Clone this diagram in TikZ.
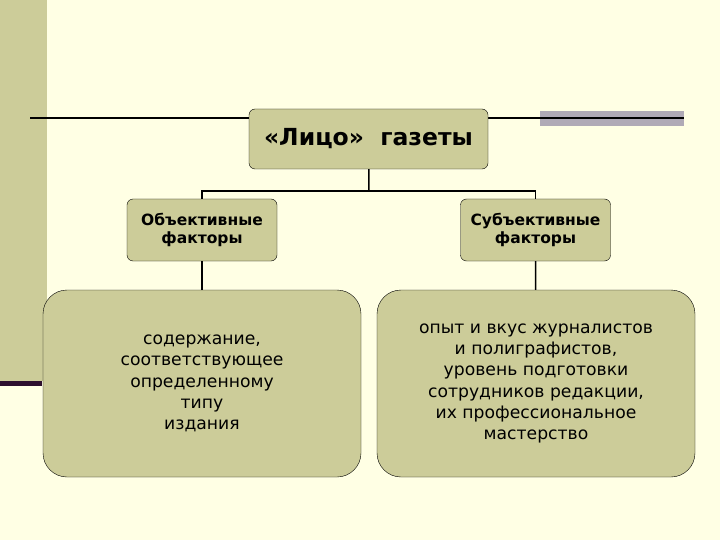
\documentclass[tikz,border=0pt]{standalone}
\usepackage{fontspec}
\setmainfont{DejaVu Sans}
\definecolor{cream}{RGB}{255,255,228}
\definecolor{olive}{RGB}{204,204,153}
\definecolor{barlila}{RGB}{176,170,182}
\definecolor{darkplum}{RGB}{45,15,45}
\tikzset{
  box/.style={draw=black, fill=olive, rounded corners=6pt, align=center, inner sep=0pt},
  bigbox/.style={box, rounded corners=24pt, minimum width=318pt, minimum height=187pt, font=\fontsize{17.2}{21.2}\selectfont},
  factor/.style={box, minimum width=150pt, minimum height=62pt, font=\fontsize{15.5}{17.5}\selectfont\bfseries},
  link/.style={line width=1.5pt}
}
\begin{document}
\begin{tikzpicture}[x=1pt, y=-1pt]
\useasboundingbox (0,0) rectangle (720,540);
\fill[cream] (0,0) rectangle (720,540);
%slide decoration
\fill[olive] (0,0) rectangle (47,381);
\fill[darkplum] (0,381) rectangle (42,386);
\fill[barlila] (540,111) rectangle (684,126);
\draw[line width=1.5pt] (30,118) -- (684,118);
\path
(368.5,139) node[box, minimum width=239pt, minimum height=60pt, font=\fontsize{23.5}{26}\selectfont\bfseries] (face) {«Лицо»~~газеты}
(369,191) coordinate (split)
(202,230) node[factor] (obj) {Объективные\\факторы}
(535.5,230) node[factor] (subj) {Субъективные\\факторы}
(202,383.5) node[bigbox] (objtext) {содержание,\\соответствующее\\определенному\\типу\\издания}
(536,383.5) node[bigbox] (subjtext) {опыт и вкус журналистов\\и полиграфистов,\\уровень подготовки\\сотрудников редакции,\\их профессиональное\\мастерство};
\draw[link] (face)--(split);
\draw[link] (split)-|(obj);
\draw[link] (split)-|(subj);
\draw[link] (obj)--(objtext);
\draw[link] (subj)--(subjtext);
\end{tikzpicture}
\end{document}
